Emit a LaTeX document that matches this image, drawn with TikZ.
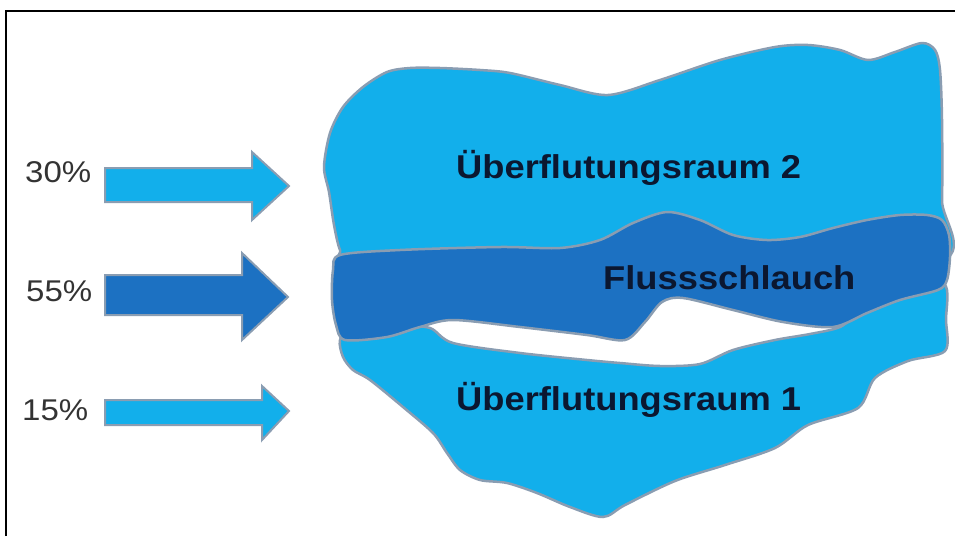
\documentclass[tikz,border=0pt]{standalone}
\usepackage{fontspec}
\setmainfont{Liberation Sans}[FakeStretch=1.1]
\definecolor{lightwater}{HTML}{12AFEB}
\definecolor{darkwater}{HTML}{1C71C2}
\definecolor{rim}{HTML}{8A9DB2}
\definecolor{labelink}{HTML}{0B1730}
\definecolor{pctink}{HTML}{333333}
\tikzset{
  blob/.style={draw=rim, line width=2.5pt, line join=round},
  flowarrow/.style={draw=rim, line width=2pt, line join=miter},
  pct/.style={anchor=base west, inner sep=0pt, text=pctink, font=\fontsize{30}{30}\selectfont},
  zone/.style={anchor=base west, inner sep=0pt, text=labelink, font=\fontsize{33}{33}\selectfont\bfseries},
  frameline/.style={draw=black, line width=2.2pt}
}
\begin{document}
\begin{tikzpicture}[x=1pt,y=-1pt]
\useasboundingbox (0,0) rectangle (955,536);
% frame (only top and left visible)
\coordinate (f1) at (6,536);
\coordinate (f2) at (6,11);
\coordinate (f3) at (955,11);
\draw[frameline] (f1) -- (f2) -- (f3);

% upper flood area
\draw[blob, fill=lightwater] plot[smooth cycle, tension=0.5] coordinates {
 (350,262) (340,250) (334,225) (329,192) (324,167) (330,133) (343,107) (363,87) (387,72)
 (410,68) (440,68) (480,70) (510,73) (560,85) (608,95) (660,80) (720,60)
 (775,47) (808,45) (840,50) (868,60) (895,52) (922,43) (935,50) (940,70)
 (942,120) (942,200) (938,262) (700,266) (500,266)};

% lower flood area
\draw[blob, fill=lightwater] plot[smooth cycle, tension=0.5] coordinates {
 (352,328) (340,340) (343,357) (353,370) (370,380) (403,407) (433,433) (447,453)
 (460,470) (480,480) (507,483) (537,493) (570,507) (603,517) (625,505) (675,481)
 (725,465) (775,448) (808,425) (858,408) (875,378) (908,361) (945,351) (946,320)
 (944,284) (900,293) (860,312) (840,327) (810,334) (775,340) (733,350) (700,364)
 (660,366) (620,363) (587,360) (520,353) (453,343) (430,328) (400,326)};

% river channel
\draw[blob, fill=darkwater] plot[smooth cycle, tension=0.5] coordinates {
 (340,255) (400,250) (500,247) (560,248) (600,240) (633,223) (667,212) (700,220)
 (733,235) (767,240) (800,237) (833,228) (867,220) (900,215) (927,215) (942,220)
 (949,235) (950,257) (947,280) (938,290) (900,300) (867,313) (833,327) (783,322)
 (733,310) (683,298) (662,302) (645,322) (625,340) (587,335) (520,327) (453,320)
 (420,327) (387,337) (345,340) (336,325) (332,300) (333,270)};

% arrows
\draw[flowarrow, fill=lightwater] (105,168) -- (252,168) -- (252,152) -- (289,186)
  -- (252,220) -- (252,202) -- (105,202) -- cycle;
\draw[flowarrow, fill=darkwater] (105,275) -- (242,275) -- (242,253) -- (288,297)
  -- (242,340) -- (242,315) -- (105,315) -- cycle;
\draw[flowarrow, fill=lightwater] (105,400) -- (262,400) -- (262,386) -- (289,411)
  -- (262,440) -- (262,425) -- (105,425) -- cycle;

% percentages
\node[pct] (p30) at (25,182) {30\%};
\node[pct] (p55) at (26,301) {55\%};
\node[pct] (p15) at (22,420) {15\%};

% area labels
\node[zone] (u2) at (456,178) {Überflutungsraum 2};
\node[zone] (fl) at (603,289) {Flussschlauch};
\node[zone] (u1) at (456,410) {Überflutungsraum 1};
\end{tikzpicture}
\end{document}
